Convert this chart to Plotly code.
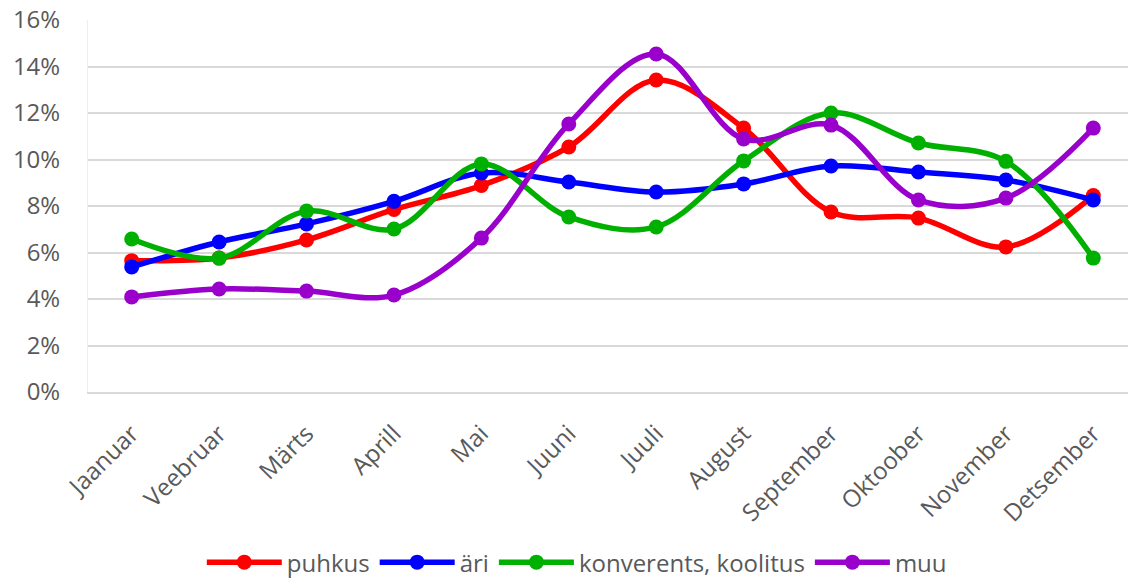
import plotly.graph_objects as go

months = ["Jaanuar", "Veebruar", "Märts", "Aprill", "Mai", "Juuni", "Juuli",
          "August", "September", "Oktoober", "November", "Detsember"]

puhkus = [5.65, 5.76, 6.54, 7.85, 8.88, 10.54, 13.42, 11.35, 7.74, 7.48, 6.24, 8.45]
ari = [5.38, 6.45, 7.23, 8.2, 9.42, 9.03, 8.6, 8.95, 9.72, 9.46, 9.12, 8.26]
konverents = [6.58, 5.76, 7.78, 7.01, 9.81, 7.53, 7.1, 9.94, 12.0, 10.71, 9.92, 5.76]
muu = [4.09, 4.43, 4.34, 4.17, 6.62, 11.53, 14.54, 10.88, 11.48, 8.26, 8.34, 11.35]

series = [
    ("puhkus", puhkus, "#FF0000"),
    ("äri", ari, "#0000FF"),
    ("konverents, koolitus", konverents, "#00B000"),
    ("muu", muu, "#9900CC"),
]

FONT = "Open Sans"
fig = go.Figure()
for name, vals, col in series:
    fig.add_trace(go.Scatter(
        x=list(range(len(months))), y=vals, name=name,
        mode="lines+markers",
        line=dict(color=col, width=5.5, shape="spline", smoothing=1),
        marker=dict(color=col, size=15),
    ))

fig.update_layout(
    width=1128, height=585,
    margin=dict(l=88, r=0, t=20, b=193, autoexpand=False),
    plot_bgcolor="white", paper_bgcolor="white",
    font=dict(family=FONT, size=24, color="#595959"),
    showlegend=True,
    legend=dict(orientation="h", x=0.47, xanchor="center", y=-0.519, yanchor="bottom",
                font=dict(size=24, color="#595959"), itemwidth=75,
                traceorder="normal", tracegroupgap=0, borderwidth=0),
    xaxis=dict(
        tickmode="array", tickvals=list(range(len(months))), ticktext=months,
        range=[-0.5, 11.397], tickangle=-45, showgrid=False,
        showline=True, linecolor="#d9d9d9", linewidth=2,
        ticks="", ticklabelstandoff=16, zeroline=False, automargin=False,
        tickfont=dict(size=24, color="#595959"),
    ),
    yaxis=dict(
        range=[0, 16], dtick=2, ticksuffix="%",
        showgrid=True, gridcolor="#d9d9d9", gridwidth=2,
        showline=True, linecolor="#eeeeee", linewidth=1, mirror=True,
        zeroline=False, ticks="", ticklabelstandoff=22, automargin=False,
        tickfont=dict(size=24, color="#595959"),
    ),
)

fig.write_html("out.html", config={"displayModeBar": False},
               post_script="document.body.style.margin='0px';")
